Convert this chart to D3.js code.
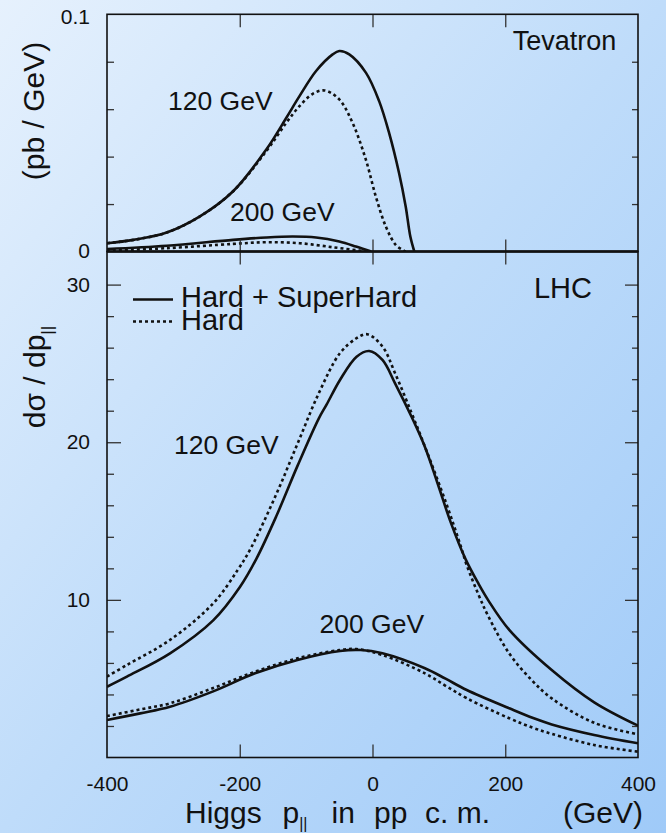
<!DOCTYPE html>
<html>
<head>
<meta charset="utf-8">
<script src="https://cdn.jsdelivr.net/npm/d3@7"></script>
<style>
  html, body { margin: 0; padding: 0; overflow: hidden; background: #c4defa; }
  svg { display: block; }
  text { font-family: "Liberation Sans", Arial, Helvetica, sans-serif; fill: #111; }
</style>
</head>
<body>
<script>
// Higgs longitudinal momentum distributions, dσ/dp|| in pp c.m. frame
// Tevatron panel (pb / GeV)
const tev120SolidX = [-400, -360, -310, -260, -210, -160, -130, -110, -85, -60, -50, -35, -10, 10, 25, 40, 50, 57, 63];
const tev120SolidY = [0.0035, 0.0049, 0.0080, 0.0148, 0.0254, 0.0430, 0.0563, 0.0655, 0.0761, 0.0831, 0.0845, 0.0831, 0.0754, 0.0634, 0.0500, 0.0331, 0.0190, 0.0063, 0];
const tev120DotX = [-400, -360, -310, -260, -210, -160, -130, -110, -90, -72, -50, -30, -10, 5, 20, 35, 47, 50];
const tev120DotY = [0.0035, 0.0049, 0.0080, 0.0148, 0.0254, 0.0423, 0.0542, 0.0613, 0.0665, 0.0679, 0.0641, 0.0542, 0.0387, 0.0232, 0.0106, 0.0028, 0.0004, 0];
const tev200SolidX = [-400, -310, -210, -160, -120, -85, -50, -25, -10, -2];
const tev200SolidY = [0.0010, 0.0024, 0.0049, 0.0059, 0.0063, 0.0059, 0.0042, 0.0021, 0.0007, 0];
const tev200DotX = [-400, -310, -210, -160, -110, -60, -20, -10];
const tev200DotY = [0.0004, 0.0014, 0.0032, 0.0039, 0.0035, 0.0018, 0.0004, 0];

// LHC panel
const lhc120SolidX = [-400, -370, -305, -240, -200, -175, -145, -113, -81, -69, -49, -24, -5, 15, 34, 59, 79, 98, 118, 140, 160, 174, 206, 270, 334, 400];
const lhc120SolidY = [4.49, 5.13, 6.61, 8.7, 10.8, 12.6, 15.3, 18.5, 21.5, 22.4, 23.95, 25.43, 25.79, 25.22, 23.74, 21.6, 19.7, 17.4, 14.9, 12.6, 11.0, 10.0, 8.1, 5.55, 3.5, 2.02];
const lhc120DotX = [-400, -370, -305, -240, -203, -183, -145, -113, -81, -49, -24, -8, 15, 34, 59, 79, 111, 133, 142, 160, 174, 206, 240, 270, 334, 400];
const lhc120DotY = [5.13, 5.87, 7.46, 9.78, 11.9, 13.3, 16.7, 19.9, 23.1, 25.65, 26.6, 26.85, 26.07, 24.38, 21.84, 19.72, 16.13, 13.4, 12.2, 10.3, 9.0, 6.6, 4.9, 3.75, 2.2, 1.47];
const lhc200SolidX = [-400, -350, -305, -241, -177, -113, -49, -18, 15, 79, 110, 142, 206, 242, 270, 334, 400];
const lhc200SolidY = [2.38, 2.8, 3.22, 4.18, 5.34, 6.19, 6.76, 6.82, 6.61, 5.66, 5.0, 4.28, 3.12, 2.5, 2.1, 1.43, 0.9];
const lhc200DotX = [-400, -350, -305, -241, -177, -113, -49, -24, 15, 79, 110, 142, 206, 242, 270, 334, 400];
const lhc200DotY = [2.63, 3.05, 3.44, 4.39, 5.44, 6.29, 6.82, 6.88, 6.5, 5.34, 4.55, 3.76, 2.49, 1.88, 1.5, 0.79, 0.37];

// Axis ticks and labels
const xTickLabels = [-400, -200, 0, 200, 400];
const xInnerTicks = [-200, 0, 200];
const tevMinorTicks = [0.02, 0.04, 0.06, 0.08];
const tevLabelTicks = [0, 0.1];
const lhcMajorTicks = [10, 20, 30];
const lhcMinorTicks = [2, 4, 6, 8, 12, 14, 16, 18, 22, 24, 26, 28];
const legendItems = ["Hard + SuperHard", "Hard"];

const W = 666, H = 833;
const L = 107, R = 638, T = 14.3, MID = 251.5, B = 757.5;

const svg = d3.select("body").append("svg").attr("width", W).attr("height", H);
const defs = svg.append("defs");
const grad = defs.append("linearGradient").attr("id", "bg")
  .attr("x1", 0).attr("y1", 0).attr("x2", 1).attr("y2", 1);
grad.append("stop").attr("offset", 0).attr("stop-color", "#e6f1fd");
grad.append("stop").attr("offset", 0.5).attr("stop-color", "#bfdcfa");
grad.append("stop").attr("offset", 1).attr("stop-color", "#9fcaf8");
svg.append("rect").attr("width", W).attr("height", H).attr("fill", "url(#bg)");

defs.append("clipPath").attr("id", "clipTop").append("rect")
  .attr("x", L).attr("y", T).attr("width", R - L).attr("height", MID - T);
defs.append("clipPath").attr("id", "clipBot").append("rect")
  .attr("x", L).attr("y", MID).attr("width", R - L).attr("height", B - MID);

const x = d3.scaleLinear().domain([-400, 400]).range([L, R]);
const yTop = d3.scaleLinear().domain([0, 0.1]).range([MID, T]);
const yBot = d3.scaleLinear().domain([0, 32.1]).range([B, MID]);

function drawCurve(g, xs, ys, yScale, dotted) {
  const pts = xs.map((v, i) => [v, ys[i]]);
  const line = d3.line().x(d => x(d[0])).y(d => yScale(d[1]))
    .curve(d3.curveCatmullRom.alpha(0.5));
  g.append("path").attr("d", line(pts))
    .attr("fill", "none").attr("stroke", "#111")
    .attr("stroke-width", 2.6)
    .attr("stroke-dasharray", dotted ? "3,3" : null);
}

const gTop = svg.append("g").attr("clip-path", "url(#clipTop)");
drawCurve(gTop, tev120DotX, tev120DotY, yTop, true);
drawCurve(gTop, tev120SolidX, tev120SolidY, yTop, false);
drawCurve(gTop, tev200DotX, tev200DotY, yTop, true);
drawCurve(gTop, tev200SolidX, tev200SolidY, yTop, false);

const gBot = svg.append("g").attr("clip-path", "url(#clipBot)");
drawCurve(gBot, lhc120DotX, lhc120DotY, yBot, true);
drawCurve(gBot, lhc120SolidX, lhc120SolidY, yBot, false);
drawCurve(gBot, lhc200DotX, lhc200DotY, yBot, true);
drawCurve(gBot, lhc200SolidX, lhc200SolidY, yBot, false);

// inward tick marks built from d3 axes
function ticks(axis, tx, ty) {
  const g = svg.append("g").attr("transform", `translate(${tx},${ty})`).call(axis);
  g.select(".domain").remove();
  g.selectAll(".tick line").attr("stroke", "#333").attr("stroke-width", 1.3);
  g.selectAll(".tick text").remove();
  return g;
}
// x ticks on each horizontal edge
ticks(d3.axisBottom(x).tickValues(xInnerTicks).tickSize(13), 0, T);
ticks(d3.axisTop(x).tickValues(xInnerTicks).tickSize(12), 0, MID);
ticks(d3.axisBottom(x).tickValues(xInnerTicks).tickSize(13), 0, MID);
ticks(d3.axisTop(x).tickValues(xInnerTicks).tickSize(13), 0, B);
// y ticks, Tevatron
ticks(d3.axisRight(yTop).tickValues(tevMinorTicks).tickSize(7), L, 0);
ticks(d3.axisLeft(yTop).tickValues(tevMinorTicks).tickSize(6), R, 0);
// y ticks, LHC
ticks(d3.axisRight(yBot).tickValues(lhcMajorTicks).tickSize(14), L, 0);
ticks(d3.axisLeft(yBot).tickValues(lhcMajorTicks).tickSize(13), R, 0);
ticks(d3.axisRight(yBot).tickValues(lhcMinorTicks).tickSize(7), L, 0);
ticks(d3.axisLeft(yBot).tickValues(lhcMinorTicks).tickSize(6), R, 0);

// tick labels
function labels(axis, tx, ty) {
  const g = svg.append("g").attr("transform", `translate(${tx},${ty})`).call(axis);
  g.select(".domain").remove();
  g.selectAll(".tick line").remove();
  g.selectAll(".tick text")
    .style("font-family", '"Liberation Sans", Arial, sans-serif')
    .style("font-size", "21px").attr("fill", "#111");
  return g;
}
labels(d3.axisBottom(x).tickValues(xTickLabels).tickSize(0).tickPadding(18.5)
  .tickFormat(d => String(d)), 0, B);
const tl = labels(d3.axisLeft(yTop).tickValues(tevLabelTicks).tickSize(0).tickPadding(17)
  .tickFormat(d => d === 0 ? "0" : "0.1"), L, 0);
tl.selectAll(".tick").filter(d => d === 0.1).select("text").attr("dy", "0.45em");
tl.selectAll(".tick").filter(d => d === 0).select("text").attr("dy", "0.3em");
labels(d3.axisLeft(yBot).tickValues(lhcMajorTicks).tickSize(0).tickPadding(17)
  .tickFormat(d => String(d)), L, 0);

// frames
svg.append("rect").attr("x", L).attr("y", T).attr("width", R - L).attr("height", MID - T)
  .attr("fill", "none").attr("stroke", "#111").attr("stroke-width", 1.6);
svg.append("rect").attr("x", L).attr("y", MID).attr("width", R - L).attr("height", B - MID)
  .attr("fill", "none").attr("stroke", "#111").attr("stroke-width", 1.6);
svg.append("line").attr("x1", L).attr("x2", R).attr("y1", yTop(0)).attr("y2", yTop(0))
  .attr("stroke", "#111").attr("stroke-width", 2.6);

// panel names
svg.append("text").attr("x", 564.5).attr("y", 50).attr("text-anchor", "middle")
  .style("font-size", "27px").text("Tevatron");
svg.append("text").attr("x", 563).attr("y", 298).attr("text-anchor", "middle")
  .style("font-size", "29px").text("LHC");

// curve labels
const curveLabel = (tx, ty, s) => svg.append("text").attr("x", tx).attr("y", ty)
  .style("font-size", "26.5px").text(s);
curveLabel(168, 109.5, "120 GeV");
curveLabel(230, 220.5, "200 GeV");
curveLabel(174, 453.5, "120 GeV");
curveLabel(319.5, 632.5, "200 GeV");

// legend
const legY = [299.5, 321.5];
legendItems.forEach((s, i) => {
  svg.append("line").attr("x1", 133).attr("x2", 173).attr("y1", legY[i]).attr("y2", legY[i])
    .attr("stroke", "#111").attr("stroke-width", i === 0 ? 2.6 : 2.4)
    .attr("stroke-dasharray", i === 0 ? null : "3,3");
  svg.append("text").attr("x", 181).attr("y", legY[i] + (i === 0 ? 7 : 8.5))
    .style("font-size", "29px").text(s);
});

// y axis titles
svg.append("text").attr("transform", "translate(44,111) rotate(-90)")
  .attr("text-anchor", "middle").style("font-size", "30px").text("(pb / GeV)");
const yt = svg.append("text").attr("transform", "translate(45,377) rotate(-90)")
  .attr("text-anchor", "middle").style("font-size", "30px");
yt.append("tspan").text("dσ / dp");
yt.append("tspan").attr("dy", 8).style("font-size", "17px").text("||");

// x axis title
const xt = [[185, "Higgs"], [331.5, "in"], [374, "pp"], [425, "c. m."], [563, "(GeV)"]];
xt.forEach(([px, s]) => svg.append("text").attr("x", px).attr("y", 823)
  .style("font-size", "30px").text(s));
const pt = svg.append("text").attr("x", 282.5).attr("y", 823).style("font-size", "30px");
pt.append("tspan").text("p");
pt.append("tspan").attr("dy", 6).style("font-size", "16px").text("||");
</script>
</body>
</html>
